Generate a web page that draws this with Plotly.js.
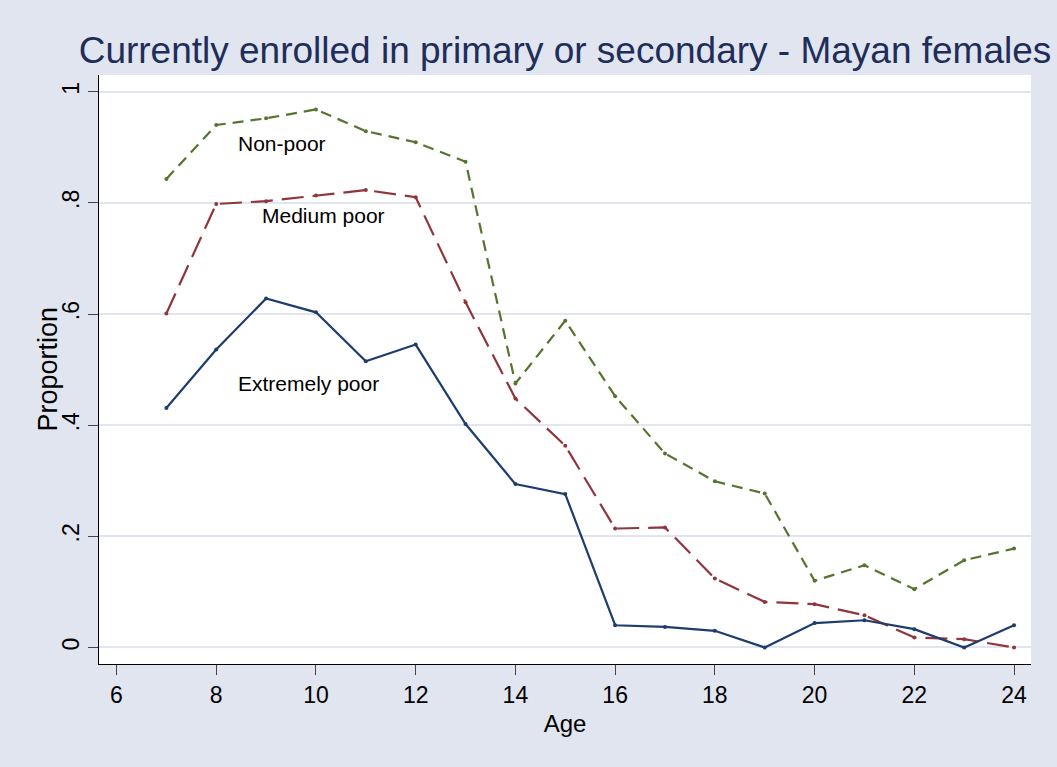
<!DOCTYPE html>
<html>
<head>
<meta charset="utf-8">
<script src="https://cdn.plot.ly/plotly-3.0.1.min.js"></script>
<style>html,body{margin:0;padding:0;background:#E0E5EF;}#chart{width:1057px;height:767px;}</style>
</head>
<body>
<div id="chart"></div>
<script>
const ages = [7,8,9,10,11,12,13,14,15,16,17,18,19,20,21,22,23,24];
const nonPoor = [0.843,0.940,0.952,0.968,0.929,0.909,0.874,0.475,0.588,0.452,0.349,0.299,0.277,0.120,0.148,0.105,0.157,0.178];
const mediumPoor = [0.601,0.798,0.803,0.813,0.823,0.810,0.621,0.448,0.363,0.214,0.216,0.124,0.082,0.078,0.058,0.018,0.015,0.000];
const extremelyPoor = [0.431,0.536,0.628,0.603,0.515,0.545,0.402,0.294,0.276,0.040,0.037,0.030,0.000,0.044,0.049,0.033,0.000,0.040];
const xTicks = [6,8,10,12,14,16,18,20,22,24];
const yTicks = [0,0.2,0.4,0.6,0.8,1];
const yTickText = ["0",".2",".4",".6",".8","1"];
const labels = [
  {text:"Non-poor", x:9.31, y:0.907},
  {text:"Medium poor", x:10.16, y:0.778},
  {text:"Extremely poor", x:9.86, y:0.475}
];

const mk = (y, color, dash, name) => ({
  x: ages, y: y, type: 'scatter', mode: 'lines+markers', name: name,
  line: {color: color, width: 2.2, dash: dash},
  marker: {color: color, size: 4, symbol: 'circle'}
});

const data = [
  mk(nonPoor, 'rgb(85,117,47)', '11px,7px', 'Non-poor'),
  mk(mediumPoor, 'rgb(144,53,59)', '22px,9px', 'Medium poor'),
  mk(extremelyPoor, 'rgb(30,60,110)', 'solid', 'Extremely poor')
];

const font = 'Liberation Sans, Arial, sans-serif';
const annots = labels.map(l => ({
  text: l.text, x: l.x, y: l.y, xref: 'x', yref: 'y', showarrow: false,
  font: {family: font, size: 21, color: '#000'}, xanchor: 'center', yanchor: 'middle'
}));
annots.push({
  text: 'Proportion', x: 0, xref: 'paper', y: 0.5, yref: 'paper', xshift: -52,
  textangle: -90, showarrow: false, xanchor: 'center', yanchor: 'middle',
  font: {family: font, size: 27, color: '#000'}
});

const layout = {
  width: 1057, height: 767,
  paper_bgcolor: '#E0E5EF', plot_bgcolor: '#FFFFFF',
  margin: {l: 99, r: 26, t: 75, b: 103},
  showlegend: false,
  title: {text: 'Currently enrolled in primary or secondary - Mayan females',
    font: {family: font, size: 37, color: 'rgb(30,45,90)'},
    x: 0.5, xref: 'paper', xanchor: 'center', y: 0.935, yref: 'container', yanchor: 'middle'},
  xaxis: {
    range: [5.649, 24.34], tickvals: xTicks, ticktext: xTicks.map(String),
    ticks: 'outside', ticklen: 10, tickcolor: '#444', tickwidth: 1,
    showline: true, linecolor: '#000', linewidth: 1, mirror: false,
    showgrid: false, zeroline: false,
    tickfont: {family: font, size: 23, color: '#000'},
    title: {text: 'Age', font: {family: font, size: 24, color: '#000'}, standoff: 8}
  },
  yaxis: {
    range: [-0.0297, 1.030], tickvals: yTicks, ticktext: yTickText, tickangle: -90,
    ticks: 'outside', ticklen: 10, tickcolor: '#444', tickwidth: 1,
    showline: true, linecolor: '#000', linewidth: 1,
    showgrid: true, gridcolor: '#E0E5EF', gridwidth: 2, zeroline: false,
    tickfont: {family: font, size: 23, color: '#000'}
  },
  annotations: annots
};
Plotly.newPlot('chart', data, layout, {displayModeBar: false, staticPlot: true});
</script>
</body>
</html>
